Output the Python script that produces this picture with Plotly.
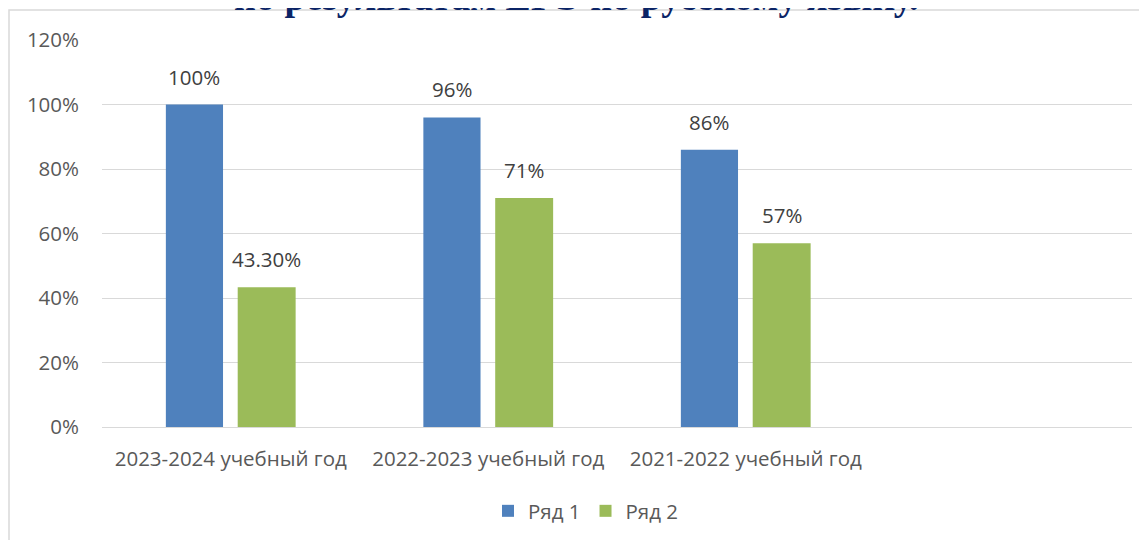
import plotly.graph_objects as go

categories = ["2023-2024 учебный год", "2022-2023 учебный год", "2021-2022 учебный год"]
series1 = [100, 96, 86]
series2 = [43.3, 71, 57]
labels1 = ["100%", "96%", "86%"]
labels2 = ["43.30%", "71%", "57%"]
series_names = ["Ряд 1", "Ряд 2"]
yticks = [0, 20, 40, 60, 80, 100, 120]
title_text = "по результатам ЕГЭ по русскому языку."

# page has an 8px body margin; compensate so the plot lands where the reference has it
W, H = 1147, 540
L, R, T, B = 94, 23, 32, 121
pw, ph = W - L - R, H - T - B

xpos = list(range(len(categories)))
font_fam = "Open Sans, Noto Sans, DejaVu Sans, sans-serif"
FS = 20.5

w1, o1 = 0.222, -0.252
w2, o2 = 0.225, 0.027

fig = go.Figure()
fig.add_trace(go.Bar(
    x=xpos, y=series1, name=series_names[0], marker=dict(color="#4F81BD", line=dict(width=0)),
    width=w1, offset=o1,
))
fig.add_trace(go.Bar(
    x=xpos, y=series2, name=series_names[1], marker=dict(color="#9BBB59", line=dict(width=0)),
    width=w2, offset=o2,
))

# data labels above bars
for vals, labs, w, o in [(series1, labels1, w1, o1), (series2, labels2, w2, o2)]:
    for i, (v, t) in enumerate(zip(vals, labs)):
        fig.add_annotation(
            x=i + o + w / 2, y=v, xref="x", yref="y", text=t, showarrow=False,
            yanchor="bottom", yshift=12,
            font=dict(family=font_fam, size=FS, color="#404040"),
        )

fig.update_layout(
    width=W, height=H,
    margin=dict(l=L, r=R, t=T, b=B, autoexpand=False),
    paper_bgcolor="white", plot_bgcolor="white",
    barmode="overlay",
    font=dict(family=font_fam, color="#595959", size=FS),
    xaxis=dict(
        range=[-0.5, 3.5], tickvals=xpos, ticktext=categories,
        showgrid=False, zeroline=False, showline=False, ticks="",
        tickfont=dict(size=FS, color="#595959", family=font_fam),
        ticklabelstandoff=17,
    ),
    yaxis=dict(
        range=[0, 120], tickvals=yticks, ticktext=[f"{v}%" for v in yticks],
        showgrid=True, gridcolor="#D9D9D9", gridwidth=1.3,
        zeroline=True, zerolinecolor="#D9D9D9", zerolinewidth=1.3,
        showline=False, ticks="",
        tickfont=dict(size=FS, color="#595959", family=font_fam),
        ticklabelstandoff=22,
    ),
    legend=dict(
        orientation="h", x=(578 - L) / pw, xanchor="center",
        y=-(503 - (T + ph)) / ph, yanchor="middle",
        font=dict(size=FS, color="#595959", family=font_fam),
        itemwidth=30,
    ),
    showlegend=True,
)

# chart border (light gray frame)
fig.add_shape(
    type="rect", xref="paper", yref="paper",
    x0=(1 - L) / pw, x1=(W + 40 - L) / pw,
    y0=-(H + 40 - T - ph) / ph, y1=1 + (T - 2) / ph,
    line=dict(color="#D9D9D9", width=1.5), fillcolor="rgba(0,0,0,0)", layer="below",
)

# cut-off title at top
fig.add_annotation(
    text=f"<b>{title_text}</b>", xref="paper", yref="paper",
    x=(568 - L) / pw, xanchor="center",
    y=1 + (T - 12) / ph, yanchor="bottom", showarrow=False,
    font=dict(family="Liberation Serif, Times New Roman, serif", size=38, color="#0B2466"),
)

fig.write_html("out.html")
